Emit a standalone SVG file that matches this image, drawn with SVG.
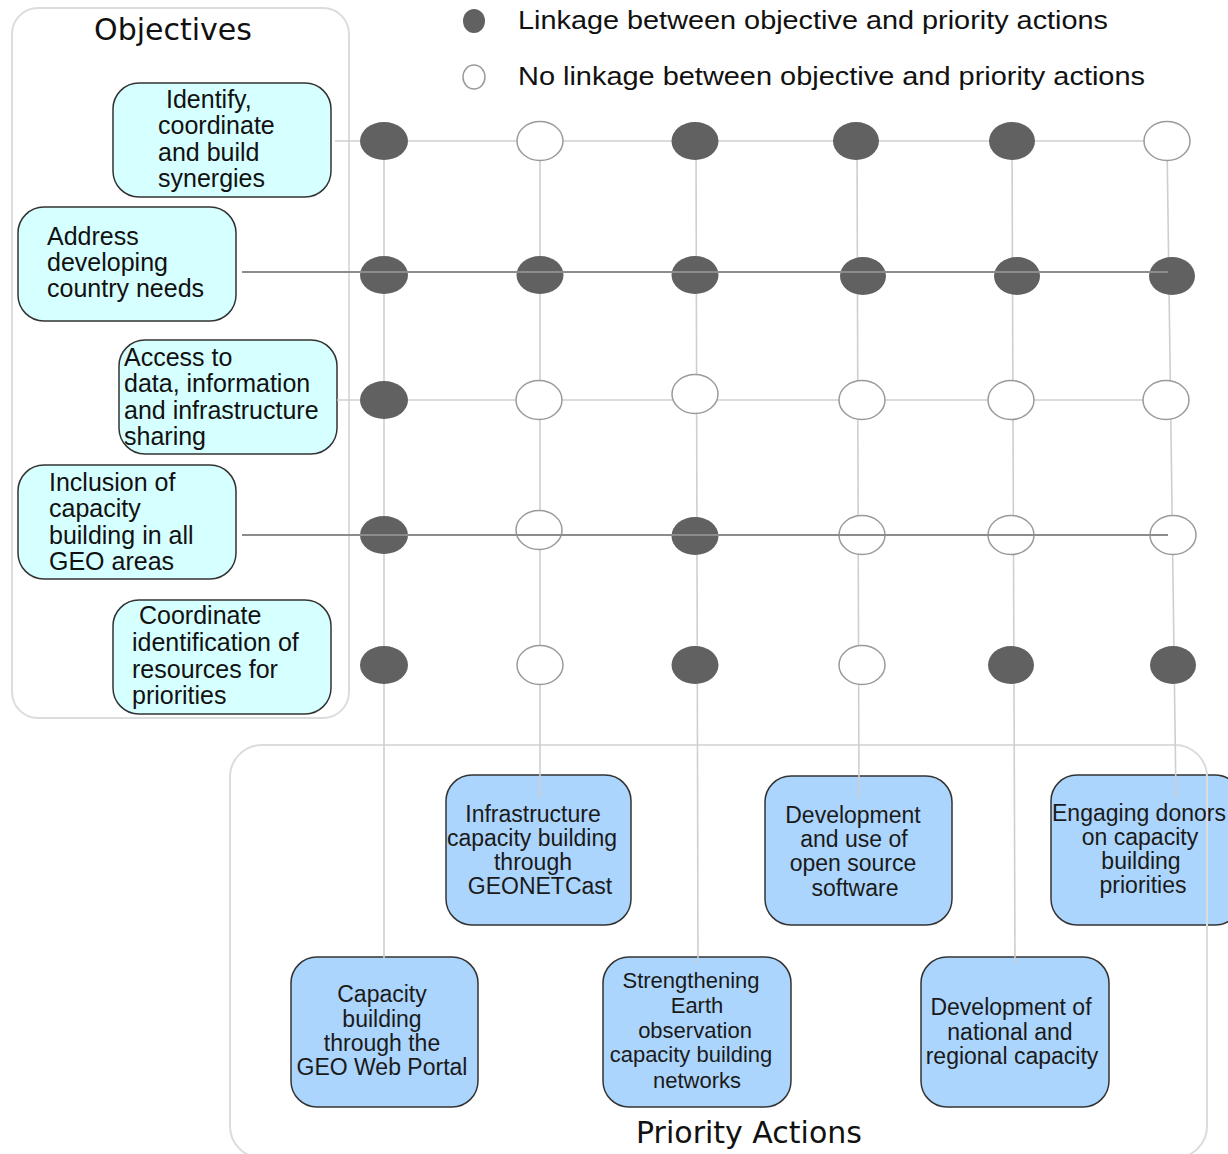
<svg xmlns="http://www.w3.org/2000/svg" width="1228" height="1154" viewBox="0 0 1228 1154">
<style>
.bg{fill:#ffffff}
.cont{fill:none;stroke:#dcdcdc;stroke-width:2}
.obj{fill:#d6ffff;stroke:#333333;stroke-width:1.5}
.pa{fill:#acd5fd;stroke:#333333;stroke-width:1.5}
.ot{font-family:"Liberation Sans",Arial,sans-serif;font-size:25px;fill:#111111}
.pt{font-family:"Liberation Sans",Arial,sans-serif;font-size:23px;fill:#1a1a1a;text-anchor:middle}
.pts{font-size:22px}
.title{font-family:"DejaVu Sans",sans-serif;font-size:30px;fill:#111111;text-anchor:middle}
.leg{font-family:"Liberation Sans",Arial,sans-serif;font-size:25px;fill:#111111}
.lt{stroke:#cfcfcf;stroke-width:1.6;fill:none}
.dk{stroke:#8c8c8c;stroke-width:2;fill:none}
.f{fill:#616161}
.o{fill:#ffffff;stroke:#9a9a9a;stroke-width:1.5}
</style>
<rect class="bg" x="0" y="0" width="1228" height="1154"/>

<!-- Priority action boxes -->
<g id="pa-infrastructure">
<rect class="pa" x="446" y="775" width="185" height="150" rx="26"/>
<text class="pt"><tspan x="533" y="822">Infrastructure</tspan><tspan x="532" y="846">capacity building</tspan><tspan x="533" y="870">through</tspan><tspan x="540" y="894">GEONETCast</tspan></text>
</g>
<g id="pa-opensource">
<rect class="pa" x="765" y="776" width="187" height="149" rx="26"/>
<text class="pt"><tspan x="853" y="823">Development</tspan><tspan x="854" y="847">and use of</tspan><tspan x="853" y="871">open source</tspan><tspan x="855" y="896">software</tspan></text>
</g>
<g id="pa-donors">
<rect class="pa" x="1051" y="775" width="190" height="150" rx="26"/>
<text class="pt"><tspan x="1139" y="821">Engaging donors</tspan><tspan x="1140" y="845">on capacity</tspan><tspan x="1141" y="869">building</tspan><tspan x="1143" y="893">priorities</tspan></text>
</g>
<g id="pa-webportal">
<rect class="pa" x="291" y="957" width="187" height="150" rx="26"/>
<text class="pt"><tspan x="382" y="1002">Capacity</tspan><tspan x="382" y="1027">building</tspan><tspan x="382" y="1051">through the</tspan><tspan x="382" y="1075">GEO Web Portal</tspan></text>
</g>
<g id="pa-networks">
<rect class="pa" x="603" y="957" width="188" height="150" rx="26"/>
<text class="pt pts"><tspan x="691" y="988">Strengthening</tspan><tspan x="697" y="1013">Earth</tspan><tspan x="695" y="1038">observation</tspan><tspan x="691" y="1062">capacity building</tspan><tspan x="697" y="1088">networks</tspan></text>
</g>
<g id="pa-national">
<rect class="pa" x="921" y="957" width="188" height="150" rx="26"/>
<text class="pt"><tspan x="1011" y="1015">Development of</tspan><tspan x="1010" y="1040">national and</tspan><tspan x="1012" y="1064">regional capacity</tspan></text>
</g>

<!-- Containers -->
<g id="objectives">
<rect class="cont" x="12" y="8" width="337" height="710" rx="26"/>
<text class="title" x="173" y="40">Objectives</text>
</g>
<g id="priority-actions">
<rect class="cont" x="230" y="745" width="977" height="413" rx="32"/>
<text class="title" x="749" y="1143">Priority Actions</text>
</g>

<!-- Objective boxes -->
<g id="obj-synergies">
<rect class="obj" x="113" y="83" width="218" height="114" rx="26"/>
<text class="ot"><tspan x="166" y="108">Identify,</tspan><tspan x="158" y="134">coordinate</tspan><tspan x="158" y="161">and build</tspan><tspan x="158" y="187">synergies</tspan></text>
</g>
<g id="obj-developing">
<rect class="obj" x="18" y="207" width="218" height="114" rx="26"/>
<text class="ot"><tspan x="47" y="245">Address</tspan><tspan x="47" y="271">developing</tspan><tspan x="47" y="297">country needs</tspan></text>
</g>
<g id="obj-access">
<rect class="obj" x="119" y="340" width="218" height="114" rx="26"/>
<text class="ot"><tspan x="124" y="366">Access to</tspan><tspan x="124" y="392">data, information</tspan><tspan x="124" y="419">and infrastructure</tspan><tspan x="124" y="445">sharing</tspan></text>
</g>
<g id="obj-inclusion">
<rect class="obj" x="18" y="465" width="218" height="114" rx="26"/>
<text class="ot"><tspan x="49" y="491">Inclusion of</tspan><tspan x="49" y="517">capacity</tspan><tspan x="49" y="544">building in all</tspan><tspan x="49" y="570">GEO areas</tspan></text>
</g>
<g id="obj-resources">
<rect class="obj" x="113" y="600" width="218" height="114" rx="26"/>
<text class="ot"><tspan x="139" y="624">Coordinate</tspan><tspan x="132" y="651">identification of</tspan><tspan x="132" y="678">resources for</tspan><tspan x="132" y="704">priorities</tspan></text>
</g>

<!-- Connectors -->
<g id="connectors">
<line class="lt" x1="384" y1="141" x2="384" y2="960"/>
<line class="lt" x1="540" y1="141" x2="540" y2="798"/>
<line class="lt" x1="696" y1="141" x2="698" y2="963"/>
<line class="lt" x1="857" y1="141" x2="859" y2="798"/>
<line class="lt" x1="1012" y1="141" x2="1015" y2="963"/>
<line class="lt" x1="1167" y1="141" x2="1176" y2="798"/>
<line class="lt" x1="335" y1="141" x2="1167" y2="141"/>
<line class="lt" x1="337" y1="400" x2="1166" y2="400"/>
</g>

<!-- Matrix dots -->
<g id="matrix">
<ellipse class="f" cx="384" cy="141" rx="24" ry="19"/>
<ellipse class="o" cx="540" cy="141" rx="23" ry="19.5"/>
<ellipse class="f" cx="695" cy="141" rx="23.5" ry="19"/>
<ellipse class="f" cx="856" cy="141" rx="23" ry="19"/>
<ellipse class="f" cx="1012" cy="141" rx="23" ry="19"/>
<ellipse class="o" cx="1167" cy="141" rx="23" ry="19.5"/>

<ellipse class="f" cx="384" cy="275" rx="24" ry="19"/>
<ellipse class="f" cx="540" cy="275" rx="23.5" ry="19"/>
<ellipse class="f" cx="695" cy="275" rx="23.5" ry="19"/>
<ellipse class="f" cx="863" cy="276" rx="23" ry="19"/>
<ellipse class="f" cx="1017" cy="276" rx="23" ry="19"/>
<ellipse class="f" cx="1172" cy="276" rx="23" ry="19"/>

<ellipse class="f" cx="384" cy="400" rx="24" ry="19"/>
<ellipse class="o" cx="539" cy="400" rx="23" ry="19.5"/>
<ellipse class="o" cx="695" cy="394" rx="23" ry="19.5"/>
<ellipse class="o" cx="862" cy="400" rx="23" ry="19.5"/>
<ellipse class="o" cx="1011" cy="400" rx="23" ry="19.5"/>
<ellipse class="o" cx="1166" cy="400" rx="23" ry="19.5"/>

<ellipse class="f" cx="384" cy="535" rx="24" ry="19"/>
<ellipse class="o" cx="539" cy="530" rx="23" ry="19.5"/>
<ellipse class="f" cx="695" cy="536" rx="23.5" ry="19"/>
<ellipse class="o" cx="862" cy="535" rx="23" ry="19.5"/>
<ellipse class="o" cx="1011" cy="535" rx="23" ry="19.5"/>
<ellipse class="o" cx="1173" cy="535" rx="23" ry="19.5"/>

<ellipse class="f" cx="384" cy="665" rx="24" ry="19"/>
<ellipse class="o" cx="540" cy="665" rx="23" ry="19.5"/>
<ellipse class="f" cx="695" cy="665" rx="23.5" ry="19"/>
<ellipse class="o" cx="862" cy="665" rx="23" ry="19.5"/>
<ellipse class="f" cx="1011" cy="665" rx="23" ry="19"/>
<ellipse class="f" cx="1173" cy="665" rx="23" ry="19"/>
</g>

<g id="connectors-front">
<line class="dk" x1="242" y1="272" x2="1168" y2="272"/>
<line class="dk" x1="242" y1="535" x2="1168" y2="535"/>
</g>

<!-- Legend -->
<g id="legend">
<ellipse class="f" cx="474" cy="21" rx="11" ry="12"/>
<text class="leg" x="518" y="29" textLength="590" lengthAdjust="spacingAndGlyphs">Linkage between objective and priority actions</text>
<ellipse class="o" cx="474" cy="77" rx="11" ry="12"/>
<text class="leg" x="518" y="85" textLength="627" lengthAdjust="spacingAndGlyphs">No linkage between objective and priority actions</text>
</g>
</svg>
